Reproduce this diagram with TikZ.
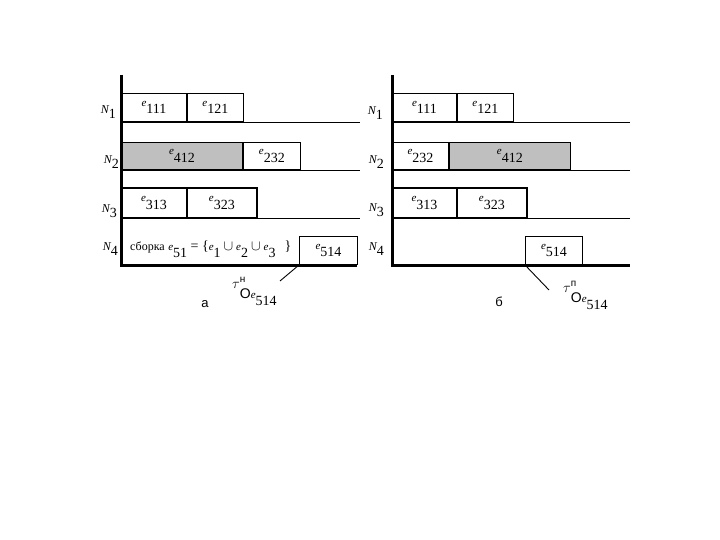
\documentclass[tikz,border=0pt]{standalone}
\usepackage{fontspec}
\setmainfont{Liberation Serif}
\setsansfont{Liberation Sans}
\usetikzlibrary{positioning}

\newcommand{\ei}[1]{{\fontsize{11}{11}\selectfont\itshape e}\raisebox{-7.5pt}{#1}}
\newcommand{\Nk}[1]{\raisebox{5pt}{\fontsize{12}{12}\selectfont\itshape N}#1}
\newcommand{\tauo}[2]{$\tau$\rlap{\raisebox{6pt}{\sffamily\fontsize{10}{10}\selectfont #1}}\raisebox{-10pt}{\sffamily O\rmfamily\ei{#2}}}

\tikzset{
  axis/.style={line width=3pt},
  rowline/.style={line width=0.9pt},
  job/.style={draw, line width=0.9pt, fill=white, anchor=south west, inner sep=0pt, minimum height=28pt},
  jobgray/.style={job, fill=gray!50},
  nlabel/.style={anchor=south east, inner sep=0pt},
  taulabel/.style={anchor=base west, inner sep=0pt},
}

\begin{document}
\begin{tikzpicture}[x=1pt, y=-1pt, font=\fontsize{14}{16}\selectfont]
\useasboundingbox (0,0) rectangle (720,540);

% diagram a
\coordinate (a-top) at (121,75);
\coordinate (a-org) at (121,265);
\coordinate (a-end) at (357,265);
\coordinate (a-lead) at (280,281);

\draw[rowline] (121,122) -- (360,122);
\draw[rowline] (121,170) -- (360,170);
\draw[rowline] (121,218) -- (360,218);

\node[job, minimum width=65pt] (a111) at (121,122) {\ei{111}};
\node[job, minimum width=56pt, right=0pt of a111] (a121) {\ei{121}};

\node[jobgray, minimum width=121pt, minimum height=27pt] (a412) at (121,170) {\ei{412}};
\node[job, minimum width=57pt, minimum height=27pt, right=0pt of a412] (a232) {\ei{232}};

\node[job, minimum width=65pt, minimum height=29pt] (a313) at (121,218) {\ei{313}};
\node[job, minimum width=69pt, minimum height=29pt, right=0pt of a313] (a323) {\ei{323}};
\draw[line width=2pt] (a313.north west) -| (a323.south east);

\node[anchor=base west, inner sep=0pt] (a51) at (130,250)
  {{\fontsize{12}{12}\selectfont сборка} \ei{51} = \{\ei{1}\hspace{3pt}$\cup$\hspace{3pt}\ei{2}\hspace{3pt}$\cup$\hspace{3pt}\ei{3}\hspace{9pt}\}};
\node[job, minimum width=58pt] (a514) at (299,265) {\ei{514}};

\draw[axis] (a-top) -- (a-org) -- (a-end);

\node[nlabel] (a-n1) at (116,119) {\Nk{1}};
\node[nlabel] (a-n2) at (119,169) {\Nk{2}};
\node[nlabel] (a-n3) at (117,218) {\Nk{3}};
\node[nlabel] (a-n4) at (118,256) {\Nk{4}};

\node[taulabel] (a-tau) at (232,288) {\tauo{н}{514}};
\draw[rowline] (a514.south west) -- (a-lead);
\node[font=\sffamily\fontsize{13}{13}\selectfont] (a-cap) at (205,304) {а};

% diagram b
\coordinate (b-top) at (392,75);
\coordinate (b-org) at (392,265);
\coordinate (b-end) at (630,265);
\coordinate (b-lead) at (549,290);

\draw[rowline] (392,122) -- (630,122);
\draw[rowline] (392,170) -- (630,170);
\draw[rowline] (392,218) -- (630,218);

\node[job, minimum width=64pt] (b111) at (392,122) {\ei{111}};
\node[job, minimum width=56pt, right=0pt of b111] (b121) {\ei{121}};

\node[job, minimum width=56pt, minimum height=27pt] (b232) at (392,170) {\ei{232}};
\node[jobgray, minimum width=121pt, minimum height=27pt, right=0pt of b232] (b412) {\ei{412}};

\node[job, minimum width=64pt, minimum height=29pt] (b313) at (392,218) {\ei{313}};
\node[job, minimum width=69pt, minimum height=29pt, right=0pt of b313] (b323) {\ei{323}};
\draw[line width=2pt] (b313.north west) -| (b323.south east);

\node[job, minimum width=57pt] (b514) at (525,265) {\ei{514}};

\draw[axis] (b-top) -- (b-org) -- (b-end);

\node[nlabel] (b-n1) at (383,120) {\Nk{1}};
\node[nlabel] (b-n2) at (384,169) {\Nk{2}};
\node[nlabel] (b-n3) at (384,217) {\Nk{3}};
\node[nlabel] (b-n4) at (384,256) {\Nk{4}};

\node[taulabel] (b-tau) at (563,292) {\tauo{п}{514}};
\draw[rowline] (b514.south west) -- (b-lead);
\node[font=\sffamily\fontsize{13}{13}\selectfont] (b-cap) at (499,302) {б};
\end{tikzpicture}
\end{document}
